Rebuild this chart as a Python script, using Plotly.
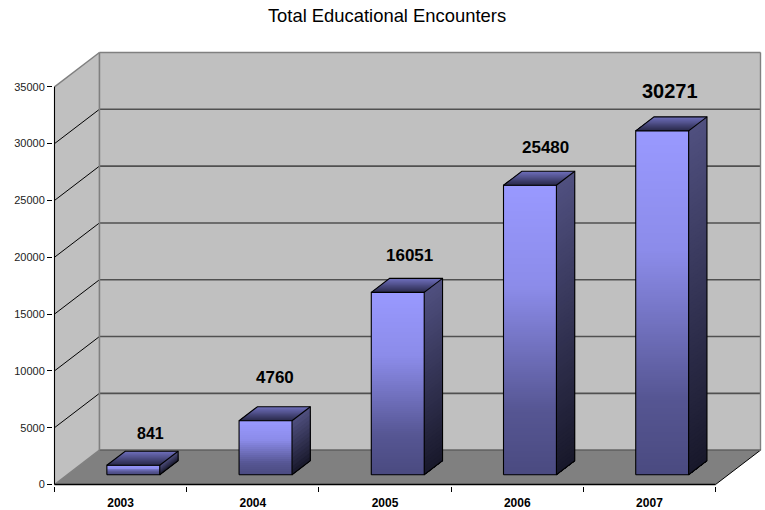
import plotly.graph_objects as go

years = ["2003", "2004", "2005", "2006", "2007"]
values = [841, 4760, 16051, 25480, 30271]
y_ticks = [0, 5000, 10000, 15000, 20000, 25000, 30000, 35000]
label_sizes = [16, 17, 17, 17, 20]
label_shift_x = [17, 9, 12, 16, 8]
label_shift_y = [32, 43, 37, 38, 40]

YMAX = 35000
W, H = 765, 510
PAD = 1.5                 # px of room around the box so outer edge lines are not clipped
PX_L, PX_R, PX_T, PX_B = 54 - PAD, 761 + PAD, 52.7 - PAD, 484.3 + PAD
CAT_PX = (716 - 54) / 5
UNIT_PX = (484.3 - 87) / YMAX
DX = 45 / CAT_PX          # full chart depth in category units
DY = 34.3 / UNIT_PX       # full chart depth in value units
BAR_W = 53 / CAT_PX
D0, D1 = 0.283, 0.691     # bar depth extent as fraction of chart depth


def mix(a, b, t):
    return "rgb(%d,%d,%d)" % tuple(round(a[k] + (b[k] - a[k]) * t) for k in range(3))


def ramp(t):
    stops = [(0, 0), (0.35, 0.17), (0.78, 0.85), (1, 1)]
    for (t0, f0), (t1, f1) in zip(stops, stops[1:]):
        if t <= t1:
            return f0 + (f1 - f0) * (t - t0) / (t1 - t0)
    return 1


def poly(xs, ys, fill):
    return go.Scatter(x=xs, y=ys, mode="lines", fill="toself", fillcolor=fill,
                      line=dict(color=fill, width=0),
                      hoverinfo="skip", showlegend=False)


def seg(xs, ys, color, width):
    return go.Scatter(x=xs, y=ys, mode="lines", line=dict(color=color, width=width),
                      hoverinfo="skip", showlegend=False)


FRONT_T, FRONT_B = (153, 153, 255), (74, 74, 128)
SIDE_T, SIDE_B = (80, 80, 128), (24, 24, 42)
TOP_BACK, TOP_FRONT = (112, 112, 190), (40, 40, 72)

fig = go.Figure()


def path(xs, ys):
    return "M " + " L ".join(f"{x} {y}" for x, y in zip(xs, ys)) + " Z"


def shape_poly(xs, ys, fill):
    fig.add_shape(type="path", path=path(xs, ys), xref="x", yref="y", layer="below",
                  fillcolor=fill, line=dict(width=0))


def shape_line(xa, ya, xb, yb, color, width):
    fig.add_shape(type="line", x0=xa, y0=ya, x1=xb, y1=yb, xref="x", yref="y", layer="below",
                  line=dict(color=color, width=width))


# walls and floor
shape_poly([0, DX, DX, 0], [0, DY, YMAX + DY, YMAX], "#C0C0C0")
shape_poly([DX, 5 + DX, 5 + DX, DX], [DY, DY, YMAX + DY, YMAX + DY], "#C0C0C0")
shape_poly([0, 5, 5 + DX, DX], [0, 0, DY, DY], "#808080")
# gridlines
for v in y_ticks[1:-1]:
    shape_line(0, v, DX, v + DY, "#000000", 1)
    shape_line(DX, v + DY, 5 + DX, v + DY, "#505050", 1.6)
# wall edges
shape_line(0, YMAX, DX, YMAX + DY, "#808080", 1.4)
shape_line(DX, YMAX + DY, 5 + DX, YMAX + DY, "#808080", 1.6)
shape_line(5 + DX, YMAX + DY, 5 + DX, DY, "#808080", 1.4)
shape_line(5 + DX, DY, 5, 0, "#000000", 1)
shape_line(0, 0, DX, DY, "#808080", 1.4)
shape_line(DX, DY, 5 + DX, DY, "#666666", 1.6)
shape_line(DX, DY, DX, YMAX + DY, "#808080", 1.6)

bar_x, bar_base, bar_h, bar_c, bar_w = [], [], [], [], []
faces, outlines = [], []
for i, v in enumerate(values):
    base = D0 * DY
    x0 = i + 0.5 - BAR_W / 2 + D0 * DX
    x1 = x0 + BAR_W
    ddx = (D1 - D0) * DX
    ddy = (D1 - D0) * DY
    # side face: slices painted top to bottom, each overlapping the next
    side_steps = max(10, int(v * UNIT_PX / 4))
    for s in range(side_steps):
        a, b = s / side_steps, (s + 1) / side_steps
        ya = base + v * (1 - a)
        faces.append(poly([x1, x1 + ddx, x1 + ddx, x1, x1],
                          [ya, ya + ddy, base + ddy, base, ya],
                          mix(SIDE_T, SIDE_B, (a + b) / 2)))
    # top face: slices painted back to front, each overlapping the next
    for s in range(14):
        a, b = s / 14, (s + 1) / 14
        xa = ddx * (1 - a)
        ya = ddy * (1 - a)
        faces.append(poly([x0 + xa, x1 + xa, x1, x0, x0 + xa],
                          [base + v + ya, base + v + ya, base + v, base + v, base + v + ya],
                          mix(TOP_BACK, TOP_FRONT, (a + b) / 2)))
    # front face segments
    steps = max(10, int(v * UNIT_PX / 2))
    for s in range(steps):
        a = (s + 0.5) / steps
        bar_x.append((x0 + x1) / 2)
        bar_base.append(base + v * (1 - (s + 1) / steps))
        bar_h.append(v / steps * 1.03)
        bar_c.append(mix(FRONT_T, FRONT_B, ramp(a)))
        bar_w.append(BAR_W)
    # outlines
    outlines.append(seg([x0, x1, x1, x0, x0], [base, base, base + v, base + v, base], "#000000", 1.1))
    outlines.append(seg([x0, x0 + ddx, x1 + ddx, x1 + ddx, x1],
                        [base + v, base + v + ddy, base + v + ddy, base + ddy, base], "#000000", 1.1))
    outlines.append(seg([x1, x1 + ddx], [base + v, base + v + ddy], "#000000", 1.1))

fig.add_trace(go.Bar(x=bar_x, y=bar_h, base=bar_base, width=bar_w,
                     marker=dict(color=bar_c, line=dict(width=0)), hoverinfo="skip", showlegend=False))
for t in faces + outlines:
    fig.add_trace(t)
fig.add_trace(seg([0, 0], [YMAX, 0], "#000000", 1.1))
fig.add_trace(seg([0, 5], [0, 0], "#000000", 1.6))

annotations = [
    dict(x=i + 0.5 + D0 * DX, y=v + D0 * DY, xref="x", yref="y", text=f"<b>{v}</b>", showarrow=False,
         xshift=label_shift_x[i], yshift=label_shift_y[i],
         font=dict(size=label_sizes[i], color="#000000"))
    for i, v in enumerate(values)
]

x_range = [-PAD / CAT_PX, 5 + DX + PAD / CAT_PX]
fig.update_layout(
    width=W, height=H, autosize=False,
    margin=dict(l=PX_L, r=W - PX_R, t=PX_T, b=H - PX_B, pad=0, autoexpand=False),
    paper_bgcolor="#FFFFFF", plot_bgcolor="#FFFFFF",
    font=dict(family="Liberation Sans, Arial, sans-serif", color="#000000"),
    title=dict(text="Total Educational Encounters", x=387 / W, xanchor="center",
               y=1 - 16 / H, yanchor="middle", font=dict(size=18.4, color="#000000")),
    barmode="overlay", bargap=0,
    annotations=annotations,
    xaxis=dict(range=x_range, tickmode="array", tickvals=[i + 0.5 for i in range(5)], ticktext=years,
               showgrid=False, zeroline=False, showline=False, ticks="", ticklabelstandoff=8, automargin=False,
               tickfont=dict(size=12, color="#000000", weight="bold"), fixedrange=True),
    xaxis2=dict(overlaying="x", matches="x", side="bottom", anchor="y", tickmode="array",
                tickvals=list(range(6)), ticktext=[""] * 6, ticks="outside", ticklen=5, tickwidth=1, automargin=False,
                tickcolor="#000000", showgrid=False, zeroline=False, showline=False),
    yaxis=dict(range=[-PAD / UNIT_PX, YMAX + DY + PAD / UNIT_PX], tickmode="array", tickvals=y_ticks,
               ticktext=[str(t) for t in y_ticks],
               showgrid=False, zeroline=False, showline=False, ticks="outside", ticklen=5, tickwidth=1, automargin=False,
               tickcolor="#000000", tickfont=dict(size=11, color="#222222"), fixedrange=True),
)
fig.add_trace(go.Scatter(x=[0], y=[0], xaxis="x2", yaxis="y", mode="markers", marker=dict(opacity=0),
                         hoverinfo="skip", showlegend=False))
fig.write_html("out.html", config=dict(displayModeBar=False), post_script="document.body.style.margin='0';")
